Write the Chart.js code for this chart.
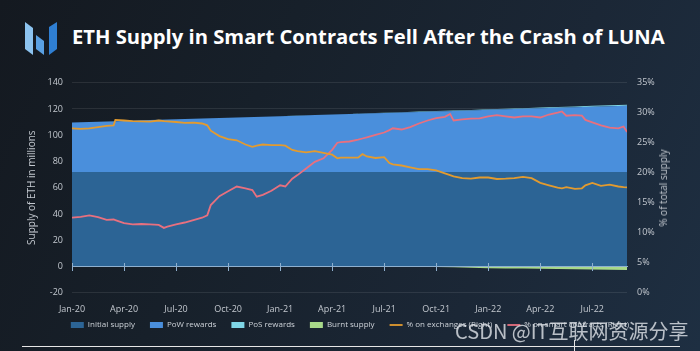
<!DOCTYPE html>
<html><head><meta charset="utf-8">
<script src="https://cdn.jsdelivr.net/npm/chart.js@4.4.1/dist/chart.umd.min.js"></script>
<style>
html,body{margin:0;padding:0;}
body{width:700px;height:351px;overflow:hidden;position:relative;
 background:linear-gradient(115deg,#141920 0%,#17202a 35%,#1b2736 70%,#1e2f42 100%);
 font-family:'Open Sans',sans-serif;}
#c{position:absolute;left:0;top:0;}
#logo{position:absolute;left:24px;top:21px;}
#title{position:absolute;left:72px;top:22px;font-weight:700;font-size:20.2px;color:#fff;white-space:nowrap;}
#rtitle{position:absolute;left:663px;top:188px;transform:translate(-50%,-50%) rotate(-90deg);font-size:10px;color:#c3c8cf;white-space:nowrap;}
#wm{position:absolute;left:455px;top:316px;font-family:'Noto Sans CJK SC',sans-serif;font-size:20px;color:rgba(225,229,234,0.8);white-space:nowrap;}
#hline{position:absolute;left:22px;top:346px;width:658px;height:1px;background:#e6e6e6;}
#vline{position:absolute;left:574px;top:340px;width:1px;height:11px;background:#e6e6e6;}
</style></head>
<body>
<svg id="logo" width="34" height="36" viewBox="0 0 34 36">
 <polygon points="1,1 9,7 9,34 1,28" fill="#8cc3ef"/>
 <polygon points="12,14 20,20 20,34 12,28" fill="#5aa0e2"/>
 <polygon points="25,6 33,1 33,28 25,34" fill="#2f7fd3"/>
</svg>
<div id="title">ETH Supply in Smart Contracts Fell After the Crash of LUNA</div>
<canvas id="c" width="700" height="351"></canvas>
<div id="rtitle">% of total supply</div>
<div id="wm">CSDN @IT互联网资源分享</div>
<div id="hline"></div><div id="vline"></div>
<script>
// ---- data (months since Jan 2020) ----
const supplyMonths = [0,1,2,3,4,5,6,7,8,9,10,11,12,13,14,15,16,17,18,19,20,21,22,23,24,25,26,27,28,29,30,31,32];
const initialSupply = [72,72,72,72,72,72,72,72,72,72,72,72,72,72,72,72,72,72,72,72,72,72,72,72,72,72,72,72,72,72,72,72,72];
const powRewards = [37.7,38.1,38.5,38.9,39.3,39.7,40.1,40.5,40.9,41.3,41.7,42.1,42.5,42.9,43.3,43.7,44.1,44.5,44.9,45.3,45.7,46.1,46.5,46.9,47.3,47.7,48.1,48.5,48.9,49.3,49.7,50.1,50.5];
const posRewards = [0,0,0,0,0,0,0,0,0,0,0,0,0.02,0.04,0.06,0.09,0.12,0.15,0.19,0.23,0.27,0.31,0.35,0.39,0.43,0.47,0.51,0.55,0.59,0.63,0.67,0.71,0.75];
const burntSupply = [0,0,0,0,0,0,0,0,0,0,0,0,0,0,0,0,0,0,0,0,-0.12,-0.35,-0.7,-1.0,-1.3,-1.5,-1.65,-1.8,-1.95,-2.1,-2.3,-2.5,-2.7];

const pctMonths = [0,0.5,1,1.5,2,2.4,2.5,3,3.5,4,4.5,5,5.3,5.5,6,6.5,7,7.5,7.8,8,8.5,9,9.5,10,10.4,10.65,11,11.5,12,12.3,12.7,13,13.5,14,14.5,15,15.3,15.5,16,16.5,16.75,17,17.5,18,18.3,18.5,19,19.5,20,20.5,21,21.5,21.8,22,22.5,23,23.5,24,24.5,25,25.5,26,26.5,27,27.5,28,28.25,28.5,29,29.4,29.6,30,30.5,31,31.5,31.8,32];
const pctExchanges = [27.4,27.3,27.4,27.6,27.8,27.9,28.8,28.7,28.6,28.55,28.5,28.7,28.6,28.55,28.45,28.3,28.35,28.2,27.9,27.0,26.1,25.6,25.4,24.7,24.3,24.5,24.7,24.6,24.6,24.5,23.8,23.6,23.4,23.6,23.3,23.0,22.4,22.5,22.5,22.5,23.1,22.7,22.45,22.6,21.6,21.4,21.2,20.9,20.6,20.6,20.4,19.9,19.6,19.4,19.1,19.0,19.2,19.2,18.95,19.0,19.1,19.3,19.1,18.3,17.9,17.5,17.4,17.6,17.3,17.4,17.9,18.3,17.8,18.0,17.7,17.6,17.55];
const pctSmartContracts = [12.5,12.65,12.9,12.6,12.15,12.2,12.1,11.6,11.4,11.45,11.4,11.3,10.8,11.0,11.4,11.7,12.1,12.5,12.9,14.6,16.1,16.9,17.7,17.4,17.1,16.0,16.3,17.0,17.9,17.7,19.0,19.6,20.7,21.8,22.4,23.8,25.0,25.1,25.2,25.5,25.7,25.9,26.3,26.7,27.1,27.4,27.2,27.6,28.2,28.7,29.1,29.3,29.8,28.7,28.9,29.0,29.05,29.4,29.6,29.4,29.2,29.4,29.4,29.2,29.7,30.0,30.2,29.5,29.6,29.5,28.8,28.4,27.9,27.5,27.4,27.7,26.8];

const quarterTicks = [0,3,6,9,12,15,18,21,24,27,30];
const quarterLabels = ['Jan-20','Apr-20','Jul-20','Oct-20','Jan-21','Apr-21','Jul-21','Oct-21','Jan-22','Apr-22','Jul-22'];

// ---- build ----
const pts = (xs, ys) => xs.map((x, i) => ({x, y: ys[i]}));
const txt = '#c3c8cf';
const axisCol = '#8fb0cf';
const setQuarterTicks = s => { s.ticks = quarterTicks.map(v => ({value: v})); };

const area = (label, data, color, fill, extra) => Object.assign({
  label, data, backgroundColor: color, borderColor: color, borderWidth: 0,
  fill, pointRadius: 0, pointHoverRadius: 0, pointStyle: 'rect', tension: 0,
  yAxisID: 'y', xAxisID: 'x', order: 10
}, extra || {});
const line = (label, data, color) => ({
  label, data, borderColor: color, backgroundColor: color, borderWidth: 1.8,
  fill: false, pointRadius: 0, pointHoverRadius: 0, pointStyle: 'line', tension: 0,
  yAxisID: 'y1', xAxisID: 'x', order: 1
});

// x tick labels sit below a short axis box; stop Chart.js clipping them to that box
const noLabelClip = { id: 'noLabelClip', beforeDraw(chart) { chart.scales.x._computeLabelArea = () => undefined; } };

new Chart(document.getElementById('c'), {
  type: 'line',
  plugins: [noLabelClip],
  data: { datasets: [
    area('Initial supply', pts(supplyMonths, initialSupply), '#2c6495', 'origin'),
    area('PoW rewards', pts(supplyMonths, powRewards), '#4a8fdc', '-1'),
    area('PoS rewards', pts(supplyMonths, posRewards), '#7fd6e6', '-1'),
    area('Burnt supply', pts(supplyMonths, burntSupply), '#a8d98a', 'origin', {stack: 'burn'}),
    line('% on exchanges (Right)', pts(pctMonths, pctExchanges), '#e39b2f'),
    line('% on smart contracts (Right)', pts(pctMonths, pctSmartContracts), '#e8707f')
  ]},
  options: {
    responsive: false, animation: false, devicePixelRatio: 1,
    layout: { padding: { top: 82.7, bottom: 12, left: 0, right: 0 } },
    plugins: {
      tooltip: { enabled: false },
      title: { display: false },
      legend: {
        position: 'bottom',
        labels: {
          usePointStyle: true, pointStyleWidth: 13, boxHeight: 6, padding: 15,
          color: '#cdd2d8', font: { family: 'Open Sans', size: 8 },
          sort: (a, b) => a.datasetIndex - b.datasetIndex
        }
      }
    },
    scales: {
      x: {
        type: 'linear', display: true, min: 0, max: 32, position: 'bottom',
        grid: { display: false }, border: { display: false },
        ticks: { display: true, padding: 3, color: txt, font: { family: 'Open Sans', size: 9 }, maxRotation: 0, autoSkip: false,
          callback: v => { const i = quarterTicks.indexOf(v); return i >= 0 ? quarterLabels[i] : ''; } },
        afterBuildTicks: setQuarterTicks,
        afterFit: s => { s.height = 13.3; }
      },
      xz: {
        type: 'linear', axis: 'x', min: 0, max: 32, position: { y: 0 },
        ticks: { display: false },
        grid: { drawOnChartArea: false, drawTicks: true, tickLength: 4, color: axisCol, z: 1 },
        border: { color: axisCol, width: 1, z: 1 },
        afterBuildTicks: setQuarterTicks
      },
      xUp: {
        type: 'linear', axis: 'x', min: 0, max: 32, position: { y: 0 },
        ticks: { display: false },
        grid: { drawOnChartArea: false, drawTicks: true, tickLength: -3, color: axisCol, z: 1 },
        border: { display: false },
        afterBuildTicks: setQuarterTicks
      },
      y: {
        position: 'left', stacked: true, min: -20, max: 140,
        ticks: { stepSize: 20, padding: 9, color: txt, font: { family: 'Open Sans', size: 9 } },
        grid: { color: 'rgba(255,255,255,0.09)', drawTicks: false },
        border: { display: false },
        title: { display: true, text: 'Supply of ETH in millions', color: txt, font: { family: 'Open Sans', size: 10 }, padding: { top: 26, bottom: 0 } },
        afterFit: s => { s.width = 72; }
      },
      y1: {
        position: 'right', min: 0, max: 35,
        ticks: { stepSize: 5, padding: 10, color: txt, font: { family: 'Open Sans', size: 9 }, callback: v => v + '%' },
        grid: { drawOnChartArea: false, drawTicks: false },
        border: { display: false },
        afterFit: s => { s.width = 73; }
      }
    }
  }
});
</script>
</body></html>
